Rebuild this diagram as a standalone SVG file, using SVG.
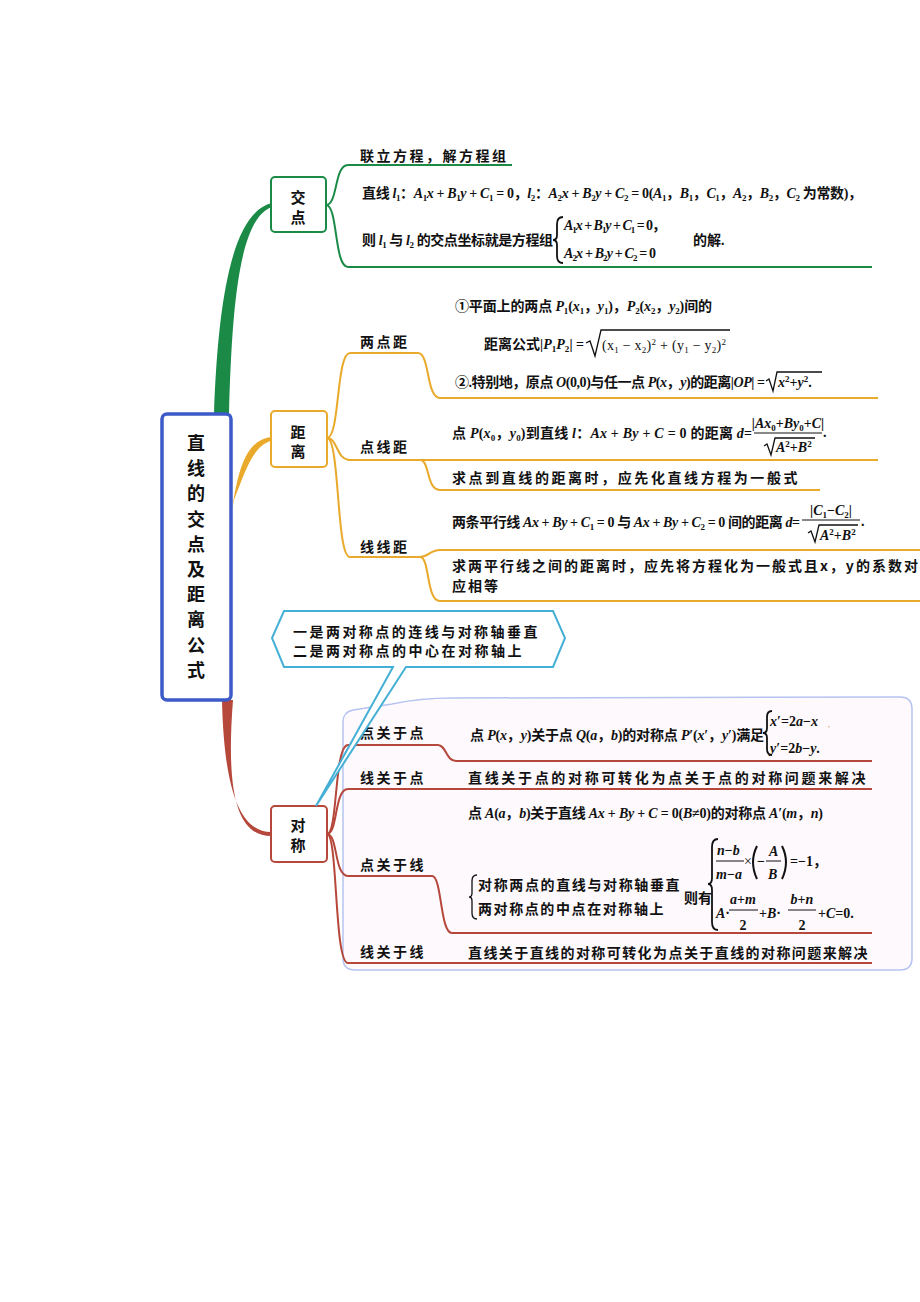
<svg xmlns="http://www.w3.org/2000/svg" width="920" height="1302" viewBox="0 0 920 1302">
<style>
.lbl{font-family:"Noto Sans CJK SC",sans-serif;font-size:14px;font-weight:700;fill:#111;letter-spacing:2.5px}
.ttl{font-family:"Noto Sans CJK SC",sans-serif;font-size:18px;font-weight:700;fill:#111;text-anchor:middle}
.nd{font-family:"Noto Sans CJK SC",sans-serif;font-size:15px;font-weight:700;fill:#111;text-anchor:middle}
.m{font-family:"Liberation Serif","Noto Sans CJK SC",serif;font-size:14px;font-weight:700;fill:#111}
.mr{font-family:"Liberation Serif",serif;font-size:14px;fill:#111}
.i{font-style:italic}
.b{font-size:9px;baseline-shift:-3px}
.p{font-size:9px;baseline-shift:5px}
.c{text-anchor:middle}
.gl{fill:none;stroke:#1a8a46;stroke-width:2}
.ol{fill:none;stroke:#e9a92a;stroke-width:2}
.rl{fill:none;stroke:#b5473b;stroke-width:2}
.k{fill:none;stroke:#111;stroke-width:1.3}
.kb{fill:none;stroke:#111;stroke-width:1.8}
</style>
<rect x="0" y="0" width="920" height="1302" fill="#ffffff"/>

<g id="symmetry-boundary">
<path d="M343,722 Q343,712 353,710 L392,704 Q420,698 452,698 L900,697 Q912,697 912,709 L912,958 Q912,970 900,970 L355,970 Q343,970 343,958 Z" fill="#fdf9fd" stroke="#b6c3f1" stroke-width="1.5"/>
</g>

<g id="connectors">
<path d="M214,414 C218,300 232,212 272,203 L272,207 C240,218 232,300 229,414 Z" fill="#1a8a46"/>
<path d="M232,510 C238,470 246,440 271,437 L271,441 C252,446 244,475 234,500 Z" fill="#e9a92a"/>
<path d="M222,700 C224,790 240,832 271,832 L271,836 C236,836 226,790 233,700 Z" fill="#b5473b"/>
<path class="gl" d="M326,205 C338,205 334,165 348,165 L512,165"/>
<path class="gl" d="M326,205 C338,205 334,267 348,267 L872,267"/>
<path class="ol" d="M327,438 C340,438 336,353 350,353 L418,353 C430,353 426,398 440,398 L878,398"/>
<path class="ol" d="M327,438 C338,438 336,460 350,460 L878,460"/>
<path class="ol" d="M420,460 C430,460 426,490 440,490 L820,490"/>
<path class="ol" d="M327,438 C340,438 336,557 350,557 L420,557"/>
<path class="ol" d="M420,557 C428,557 430,550 440,550 L920,550"/>
<path class="ol" d="M420,557 C430,557 426,601 440,601 L920,601"/>
<path class="rl" d="M327,834 C338,834 334,745 348,745 L438,745 C446,745 446,761 456,761 L872,761"/>
<path class="rl" d="M327,834 C338,834 334,789 348,789 L872,789"/>
<path class="rl" d="M327,834 C338,834 334,876 348,876 L432,876 C442,876 440,933 452,933 L872,933"/>
<path class="rl" d="M327,834 C338,834 334,963 348,963 L872,963"/>
</g>

<g id="root">
<rect x="162" y="414" width="69" height="286" rx="5" fill="#ffffff" stroke="#3d5bc8" stroke-width="3.5"/>
<text class="ttl" x="196" y="450">直</text>
<text class="ttl" x="196" y="475">线</text>
<text class="ttl" x="196" y="500">的</text>
<text class="ttl" x="196" y="526">交</text>
<text class="ttl" x="196" y="551">点</text>
<text class="ttl" x="196" y="576">及</text>
<text class="ttl" x="196" y="601">距</text>
<text class="ttl" x="196" y="626">离</text>
<text class="ttl" x="196" y="652">公</text>
<text class="ttl" x="196" y="677">式</text>
</g>

<g id="node-jiaodian">
<rect x="271" y="177" width="55" height="55" rx="4" fill="#ffffff" stroke="#1a8a46" stroke-width="2"/>
<text class="nd" x="298" y="203">交</text>
<text class="nd" x="298" y="223">点</text>
</g>
<g id="jd-1"><text class="lbl" x="360" y="161">联立方程，解方程组</text></g>
<g id="jd-2">
<text class="m" x="362" y="198" textLength="500" lengthAdjust="spacing">直线 <tspan class="i">l</tspan><tspan class="b">1</tspan>：<tspan class="i">A</tspan><tspan class="b">1</tspan><tspan class="i">x</tspan> + <tspan class="i">B</tspan><tspan class="b">1</tspan><tspan class="i">y</tspan> + <tspan class="i">C</tspan><tspan class="b">1</tspan> = 0，<tspan class="i">l</tspan><tspan class="b">2</tspan>：<tspan class="i">A</tspan><tspan class="b">2</tspan><tspan class="i">x</tspan> + <tspan class="i">B</tspan><tspan class="b">2</tspan><tspan class="i">y</tspan> + <tspan class="i">C</tspan><tspan class="b">2</tspan> = 0(<tspan class="i">A</tspan><tspan class="b">1</tspan>，<tspan class="i">B</tspan><tspan class="b">1</tspan>，<tspan class="i">C</tspan><tspan class="b">1</tspan>，<tspan class="i">A</tspan><tspan class="b">2</tspan>，<tspan class="i">B</tspan><tspan class="b">2</tspan>，<tspan class="i">C</tspan><tspan class="b">2</tspan> 为常数)，</text>
<text class="m" x="362" y="245" textLength="191" lengthAdjust="spacing">则 <tspan class="i">l</tspan><tspan class="b">1</tspan> 与 <tspan class="i">l</tspan><tspan class="b">2</tspan> 的交点坐标就是方程组</text>
<path class="kb" d="M563,217 Q557,217 557,224 L557,235 Q557,240 553,240 Q557,240 557,245 L557,256 Q557,263 563,263"/>
<text class="m" x="564" y="230" textLength="102" lengthAdjust="spacing"><tspan class="i">A</tspan><tspan class="b">1</tspan><tspan class="i">x</tspan> + <tspan class="i">B</tspan><tspan class="b">1</tspan><tspan class="i">y</tspan> + <tspan class="i">C</tspan><tspan class="b">1</tspan> = 0，</text>
<text class="m" x="564" y="258" textLength="92" lengthAdjust="spacing"><tspan class="i">A</tspan><tspan class="b">2</tspan><tspan class="i">x</tspan> + <tspan class="i">B</tspan><tspan class="b">2</tspan><tspan class="i">y</tspan> + <tspan class="i">C</tspan><tspan class="b">2</tspan> = 0</text>
<text class="m" x="693" y="245">的解.</text>
</g>

<g id="node-juli">
<rect x="271" y="411" width="56" height="56" rx="4" fill="#ffffff" stroke="#e9a92a" stroke-width="2"/>
<text class="nd" x="298" y="438">距</text>
<text class="nd" x="298" y="457">离</text>
</g>
<g id="jl-liangdian">
<text class="lbl" x="360" y="347">两点距</text>
<text class="m" x="455" y="311" textLength="257" lengthAdjust="spacing">①平面上的两点 <tspan class="i">P</tspan><tspan class="b">1</tspan>(<tspan class="i">x</tspan><tspan class="b">1</tspan>，<tspan class="i">y</tspan><tspan class="b">1</tspan>)，<tspan class="i">P</tspan><tspan class="b">2</tspan>(<tspan class="i">x</tspan><tspan class="b">2</tspan>，<tspan class="i">y</tspan><tspan class="b">2</tspan>)间的</text>
<text class="m" x="484" y="349" textLength="100" lengthAdjust="spacing">距离公式|<tspan class="i">P</tspan><tspan class="b">1</tspan><tspan class="i">P</tspan><tspan class="b">2</tspan>| =</text>
<path class="k" d="M586,343 L590,341 L595,356 L601,330 L730,330"/>
<text class="mr" x="602" y="350" textLength="124" lengthAdjust="spacing">(x<tspan class="b">1</tspan> − x<tspan class="b">2</tspan>)<tspan class="p">2</tspan> + (y<tspan class="b">1</tspan> − y<tspan class="b">2</tspan>)<tspan class="p">2</tspan></text>
<text class="m" x="455" y="387" textLength="310" lengthAdjust="spacing">②.特别地，原点 <tspan class="i">O</tspan>(0,0)与任一点 <tspan class="i">P</tspan>(<tspan class="i">x</tspan>，<tspan class="i">y</tspan>)的距离|<tspan class="i">OP</tspan>| =</text>
<path class="k" d="M766,381 L769,379 L773,391 L777,372 L822,372"/>
<text class="m" x="778" y="387"><tspan class="i">x</tspan><tspan class="p">2</tspan>+<tspan class="i">y</tspan><tspan class="p">2</tspan>.</text>
</g>
<g id="jl-dianxian">
<text class="lbl" x="360" y="452">点线距</text>
<text class="m" x="452" y="438" textLength="300" lengthAdjust="spacing">点 <tspan class="i">P</tspan>(<tspan class="i">x</tspan><tspan class="b">0</tspan>，<tspan class="i">y</tspan><tspan class="b">0</tspan>)到直线 <tspan class="i">l</tspan>：<tspan class="i">Ax</tspan> + <tspan class="i">By</tspan> + <tspan class="i">C</tspan> = 0 的距离 <tspan class="i">d</tspan>=</text>
<text class="m c" x="788" y="428">|<tspan class="i">Ax</tspan><tspan class="b">0</tspan>+<tspan class="i">By</tspan><tspan class="b">0</tspan>+<tspan class="i">C</tspan>|</text>
<line x1="754" y1="433" x2="822" y2="433" stroke="#111" stroke-width="1"/>
<path class="k" d="M764,446 L767,444 L771,455 L775,438 L815,438"/>
<text class="m" x="776" y="452"><tspan class="i">A</tspan><tspan class="p">2</tspan>+<tspan class="i">B</tspan><tspan class="p">2</tspan></text>
<text class="m" x="823" y="437">.</text>
<text class="lbl" x="452" y="483" textLength="348" lengthAdjust="spacing">求点到直线的距离时，应先化直线方程为一般式</text>
</g>
<g id="jl-xianxian">
<text class="lbl" x="360" y="552">线线距</text>
<text class="m" x="452" y="527" textLength="348" lengthAdjust="spacing">两条平行线 <tspan class="i">Ax</tspan> + <tspan class="i">By</tspan> + <tspan class="i">C</tspan><tspan class="b">1</tspan> = 0 与 <tspan class="i">Ax</tspan> + <tspan class="i">By</tspan> + <tspan class="i">C</tspan><tspan class="b">2</tspan> = 0 间的距离 <tspan class="i">d</tspan>=</text>
<text class="m c" x="831" y="515">|<tspan class="i">C</tspan><tspan class="b">1</tspan>−<tspan class="i">C</tspan><tspan class="b">2</tspan>|</text>
<line x1="802" y1="520" x2="860" y2="520" stroke="#111" stroke-width="1"/>
<path class="k" d="M808,533 L811,531 L815,542 L819,525 L858,525"/>
<text class="m" x="820" y="540"><tspan class="i">A</tspan><tspan class="p">2</tspan>+<tspan class="i">B</tspan><tspan class="p">2</tspan></text>
<text class="m" x="861" y="526">.</text>
<text class="lbl" x="452" y="571" style="letter-spacing:2px">求两平行线之间的距离时，应先将方程化为一般式且x，y的系数对</text>
<text class="lbl" x="452" y="591" style="letter-spacing:2px">应相等</text>
</g>

<g id="node-duicheng">
<rect x="271" y="806" width="56" height="56" rx="4" fill="#ffffff" stroke="#b5473b" stroke-width="2"/>
<text class="nd" x="298" y="831">对</text>
<text class="nd" x="298" y="851">称</text>
</g>
<g id="dc-diandian">
<text class="lbl" x="360" y="738">点关于点</text>
<text class="m" x="470" y="740" textLength="294" lengthAdjust="spacing">点 <tspan class="i">P</tspan>(<tspan class="i">x</tspan>，<tspan class="i">y</tspan>)关于点 <tspan class="i">Q</tspan>(<tspan class="i">a</tspan>，<tspan class="i">b</tspan>)的对称点 <tspan class="i">P</tspan>′(<tspan class="i">x</tspan>′，<tspan class="i">y</tspan>′)满足</text>
<path class="kb" d="M772,711 Q767,711 767,717 L767,728 Q767,733 763,733 Q767,733 767,738 L767,749 Q767,755 772,755"/>
<text class="m" x="770" y="726"><tspan class="i">x</tspan>′=2<tspan class="i">a</tspan>−<tspan class="i">x</tspan></text>
<text x="828" y="727" font-family="Liberation Serif" font-size="8" fill="#e07a20">,</text>
<text class="m" x="770" y="753"><tspan class="i">y</tspan>′=2<tspan class="i">b</tspan>−<tspan class="i">y</tspan>.</text>
</g>
<g id="dc-xiandian">
<text class="lbl" x="360" y="783">线关于点</text>
<text class="lbl" x="468" y="783" textLength="400" lengthAdjust="spacing">直线关于点的对称可转化为点关于点的对称问题来解决</text>
</g>
<g id="dc-dianxian">
<text class="lbl" x="360" y="870">点关于线</text>
<text class="m" x="468" y="818" textLength="355" lengthAdjust="spacing">点 <tspan class="i">A</tspan>(<tspan class="i">a</tspan>，<tspan class="i">b</tspan>)关于直线 <tspan class="i">Ax</tspan> + <tspan class="i">By</tspan> + <tspan class="i">C</tspan> = 0(<tspan class="i">B</tspan>≠0)的对称点 <tspan class="i">A</tspan>′(<tspan class="i">m</tspan>，<tspan class="i">n</tspan>)</text>
<path class="k" d="M477,875 Q472,875 472,881 L472,893 Q472,897 469,897 Q472,897 472,901 L472,913 Q472,919 477,919"/>
<text class="lbl" x="478" y="890" textLength="204" lengthAdjust="spacing">对称两点的直线与对称轴垂直</text>
<text class="lbl" x="478" y="914" textLength="188" lengthAdjust="spacing">两对称点的中点在对称轴上</text>
<text class="m" x="684" y="903">则有</text>
<path class="kb" d="M718,839 Q712,839 712,847 L712,878 Q712,884 708,884 Q712,884 712,890 L712,922 Q712,930 718,930"/>
<text class="m" x="717" y="855"><tspan class="i">n</tspan>−<tspan class="i">b</tspan></text>
<line x1="716" y1="861" x2="744" y2="861" stroke="#111" stroke-width="1"/>
<text class="m" x="716" y="879"><tspan class="i">m</tspan>−<tspan class="i">a</tspan></text>
<text class="mr" x="744" y="866" font-size="11">×</text>
<path d="M757,846 Q749,862 757,879" fill="none" stroke="#111" stroke-width="2"/>
<text class="m" x="757" y="866">−</text>
<text class="m i" x="769" y="856">A</text>
<line x1="766" y1="861" x2="781" y2="861" stroke="#111" stroke-width="1"/>
<text class="m i" x="768" y="879">B</text>
<path d="M782,846 Q790,862 782,879" fill="none" stroke="#111" stroke-width="2"/>
<text class="m" x="790" y="866">=−1，</text>
<text class="m" x="716" y="918"><tspan class="i">A</tspan>·</text>
<text class="m c" x="743" y="904"><tspan class="i">a</tspan>+<tspan class="i">m</tspan></text>
<line x1="729" y1="910" x2="758" y2="910" stroke="#111" stroke-width="1"/>
<text class="m c" x="743" y="930">2</text>
<text class="m" x="759" y="918">+<tspan class="i">B</tspan>·</text>
<text class="m c" x="802" y="904"><tspan class="i">b</tspan>+<tspan class="i">n</tspan></text>
<line x1="788" y1="910" x2="816" y2="910" stroke="#111" stroke-width="1"/>
<text class="m c" x="802" y="930">2</text>
<text class="m" x="818" y="918">+<tspan class="i">C</tspan>=0.</text>
</g>
<g id="dc-xianxian">
<text class="lbl" x="360" y="957">线关于线</text>
<text class="lbl" x="468" y="958" textLength="402" lengthAdjust="spacing">直线关于直线的对称可转化为点关于直线的对称问题来解决</text>
</g>

<g id="callout">
<path d="M284,611 L553,611 L565,638 L553,667 L406,667 L316,806 L393,667 L284,667 L272,638 Z" fill="#ffffff" stroke="#45b0d5" stroke-width="2" stroke-linejoin="miter"/>
<text class="lbl" x="293" y="637" textLength="247" lengthAdjust="spacing">一是两对称点的连线与对称轴垂直</text>
<text class="lbl" x="293" y="656" textLength="231" lengthAdjust="spacing">二是两对称点的中心在对称轴上</text>
</g>
</svg>
